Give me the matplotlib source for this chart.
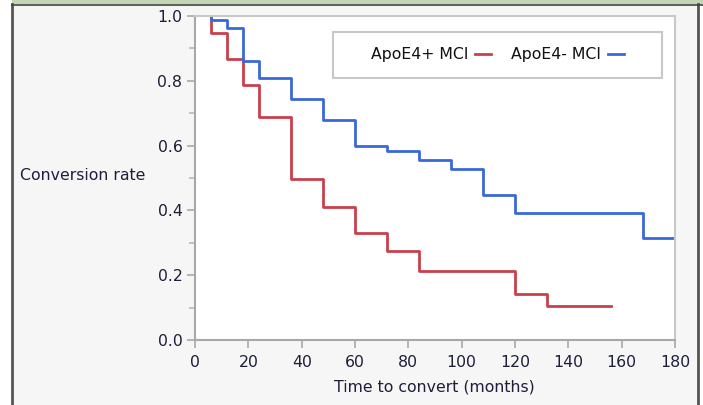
import matplotlib
matplotlib.use("Agg")
import matplotlib.pyplot as plt
from matplotlib.patches import Rectangle
from matplotlib.ticker import MultipleLocator, FormatStrFormatter

# Data
pos_times = [6, 6, 12, 18, 24, 36, 48, 60, 72, 84, 120, 132, 156]
pos_rate = [1.0, 0.947, 0.866, 0.787, 0.689, 0.497, 0.411, 0.331, 0.276, 0.214, 0.142, 0.105, 0.105]
neg_times = [6, 6, 12, 18, 24, 36, 48, 60, 72, 84, 96, 108, 120, 168, 180]
neg_rate = [1.0, 0.988, 0.962, 0.862, 0.810, 0.743, 0.679, 0.599, 0.584, 0.556, 0.527, 0.447, 0.393, 0.314, 0.314]
labels = ["ApoE4+ MCI", "ApoE4- MCI"]
x_ticks = [0, 20, 40, 60, 80, 100, 120, 140, 160, 180]
y_ticks = [0.0, 0.2, 0.4, 0.6, 0.8, 1.0]

W, H = 703, 405
fig = plt.figure(figsize=(W / 100, H / 100), dpi=100)
fig.patch.set_facecolor("white")

# panel background and borders
fig.patches.append(Rectangle((12 / W, 0), (698 - 12) / W, 1 - 4 / H, transform=fig.transFigure,
                             facecolor="#f6f6f6", edgecolor="none", zorder=-10))
fig.patches.append(Rectangle((12 / W, 1 - 4 / H), 1 - 12 / W, 4 / H, transform=fig.transFigure,
                             facecolor="#c3d6b3", edgecolor="none", zorder=-10))
fig.lines.append(plt.Line2D([12 / W, 12 / W], [0, 1 - 4 / H], transform=fig.transFigure,
                            color="#555555", lw=2.0, zorder=-5))
fig.lines.append(plt.Line2D([698 / W, 698 / W], [0, 1 - 4 / H], transform=fig.transFigure,
                            color="#555555", lw=2.0, zorder=-5))
fig.lines.append(plt.Line2D([12 / W, 1], [1 - 4.5 / H, 1 - 4.5 / H], transform=fig.transFigure,
                            color="#444444", lw=1.2, zorder=-5))

ax = fig.add_axes([195 / W, 1 - 340 / H, 480 / W, 324 / H])
ax.set_zorder(1)
ax.set_facecolor("white")

txt_color = "#1e1e3a"
red = "#c9404d"
blue = "#3a68d9"
fs = 11.3

l1, = ax.step(pos_times, pos_rate, where="post", color=red, lw=2.0, label=labels[0])
l2, = ax.step(neg_times, neg_rate, where="post", color=blue, lw=2.0, label=labels[1])

ax.set_xlim(0, 180)
ax.set_ylim(0, 1.0)
ax.set_xticks(x_ticks)
ax.set_yticks(y_ticks)
ax.yaxis.set_major_formatter(FormatStrFormatter("%.1f"))
ax.yaxis.set_minor_locator(MultipleLocator(0.1))

for s in ["left", "bottom"]:
    ax.spines[s].set_color("#a8a8a8")
    ax.spines[s].set_linewidth(1.5)
for s in ["top", "right"]:
    ax.spines[s].set_color("#c8c8c8")
    ax.spines[s].set_linewidth(1.5)

ax.tick_params(axis="both", which="major", length=6, width=1.2, color="#a8a8a8",
               labelsize=fs, labelcolor=txt_color)
ax.tick_params(axis="x", which="major", pad=5)
ax.tick_params(axis="y", which="major", pad=3)
ax.tick_params(axis="y", which="minor", length=4, width=1.2, color="#b8b8b8")

fig.text(20 / W, 1 - 176 / H, "Conversion rate", ha="left", va="center",
         fontsize=fs, color=txt_color)
fig.text(434 / W, 1 - 387 / H, "Time to convert (months)", ha="center", va="center",
         fontsize=fs, color=txt_color)

# legend box (fixed size as in the reference) with legend content centered inside
bx0, bx1 = (333 - 195) / 480, (662 - 195) / 480
by0, by1 = (340 - 78) / 324, (340 - 32) / 324
ax.add_patch(Rectangle((bx0, by0), bx1 - bx0, by1 - by0, transform=ax.transAxes,
                       facecolor="white", edgecolor="#c8c8c8", lw=1.5, zorder=5))
leg = ax.legend(handles=[l1, l2], loc="center", ncol=2, markerfirst=False,
                bbox_to_anchor=((bx0 + bx1) / 2, (by0 + by1) / 2),
                fontsize=fs, frameon=False, handlelength=1.0,
                handletextpad=0.45, columnspacing=1.3)
leg.set_zorder(6)
for t in leg.get_texts():
    t.set_color("#111111")

fig.savefig("out.png", dpi=100)
